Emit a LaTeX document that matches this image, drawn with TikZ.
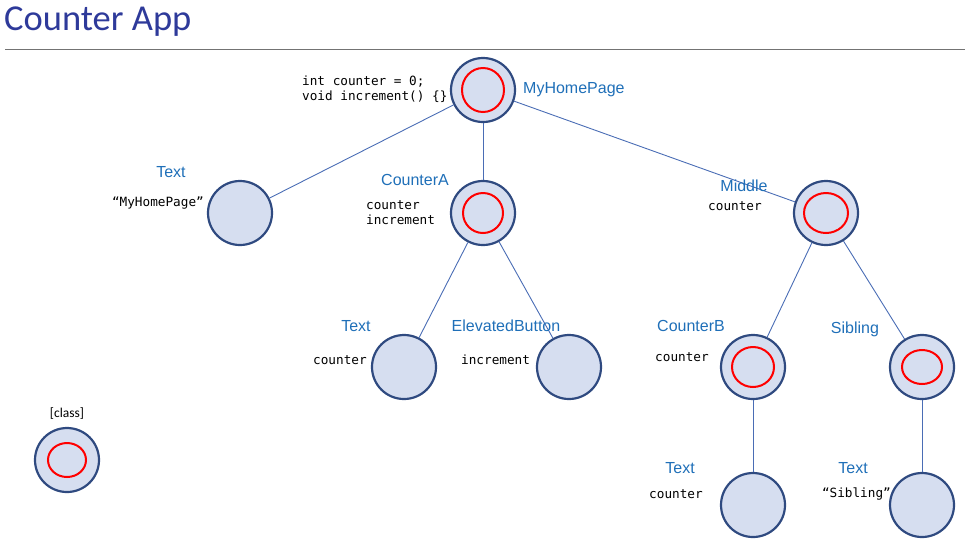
\documentclass[tikz,border=0pt]{standalone}
\usepackage{fontspec}
\setmainfont{Liberation Sans}
\newfontfamily\titlefont{Carlito}
\newfontfamily\codefont{DejaVu Sans Mono}
\definecolor{nodefill}{HTML}{D6DEF0}
\definecolor{nodeline}{HTML}{2F4A80}
\definecolor{edgecol}{HTML}{4A6DB5}
\definecolor{lblcol}{HTML}{1F6FB8}
\definecolor{titlecol}{HTML}{2E3A9A}
\tikzset{
  wnode/.style={circle, draw=nodeline, fill=nodefill, line width=2.2pt, minimum size=64pt, inner sep=0pt},
  redring/.style={draw=red, line width=2pt},
  lbl/.style={text=lblcol, font=\fontsize{16}{18}\selectfont, inner sep=0pt},
  code/.style={font=\codefont\fontsize{12.7}{15}\selectfont, inner sep=0pt, align=left},
  edge/.style={draw=edgecol, line width=0.9pt},
}
\begin{document}
\begin{tikzpicture}[x=1pt,y=-1pt]
\useasboundingbox (0,0) rectangle (965,547);
\node[anchor=west, text=titlecol, font=\titlefont\fontsize{36.5}{40}\selectfont, inner sep=0pt] (title) at (4,22) {Counter App};
\coordinate (ruleL) at (5,49);
\coordinate (ruleR) at (965,49);
\draw[gray!90!black, line width=1pt] (ruleL) -- (ruleR);

% nodes
\node[wnode] (home) at (483,90) {};
\node[wnode] (text1) at (240,213) {};
\node[wnode] (ca) at (483,213) {};
\node[wnode] (mid) at (826,213) {};
\node[wnode] (text2) at (404,367) {};
\node[wnode] (eb) at (569,367) {};
\node[wnode] (cb) at (753,367) {};
\node[wnode] (sib) at (922,367) {};
\node[wnode] (text3) at (753,505) {};
\node[wnode] (text4) at (922,505) {};
\node[wnode] (cls) at (67,460) {};

% red rings (state)
\draw[redring] (home) ellipse [x radius=21, y radius=22];
\draw[redring] (ca) ellipse [x radius=20, y radius=20];
\draw[redring] (mid) ellipse [x radius=22, y radius=20];
\draw[redring] (cb) ellipse [x radius=21, y radius=20];
\draw[redring] (sib) ellipse [x radius=20, y radius=17];
\draw[redring] (cls) ellipse [x radius=19, y radius=17];

% edges
\draw[edge] (home) -- (text1);
\draw[edge] (home) -- (ca);
\draw[edge] (home) -- (mid);
\draw[edge] (ca) -- (text2);
\draw[edge] (ca) -- (eb);
\draw[edge] (mid) -- (cb);
\draw[edge] (mid) -- (sib);
\draw[edge] (cb) -- (text3);
\draw[edge] (sib) -- (text4);

% labels
\node[lbl, anchor=west] (homeL) at (523,90) {MyHomePage};
\node[code, anchor=west] (homeC) at (302,89.5) {int counter = 0;\\void increment() \{\}};
\node[lbl] (text1L) at (171,172) {Text};
\node[code, anchor=east] (text1C) at (204,203) {“MyHomePage”};
\node[lbl] (caL) at (415,180) {CounterA};
\node[code, anchor=west] (caC) at (366,212.5) {counter\\increment};
\node[lbl] (midL) at (744,186) {Middle};
\node[code, anchor=west] (midC) at (708,206) {counter};
\node[lbl] (text2L) at (356,326) {Text};
\node[code, anchor=west] (text2C) at (313,360) {counter};
\node[lbl] (ebL) at (506,326) {ElevatedButton};
\node[code, anchor=west] (ebC) at (461,360) {increment};
\node[lbl] (cbL) at (691,326) {CounterB};
\node[code, anchor=west] (cbC) at (655,357) {counter};
\node[lbl] (sibL) at (855,329) {Sibling};
\node[lbl] (text3L) at (680,468) {Text};
\node[code, anchor=west] (text3C) at (649,494) {counter};
\node[lbl] (text4L) at (853,468) {Text};
\node[code, anchor=east] (text4C) at (891,494) {“Sibling”};
\node[font=\titlefont\fontsize{13.5}{15}\selectfont, inner sep=0pt] (clsL) at (67,414) {[class]};
\end{tikzpicture}
\end{document}
